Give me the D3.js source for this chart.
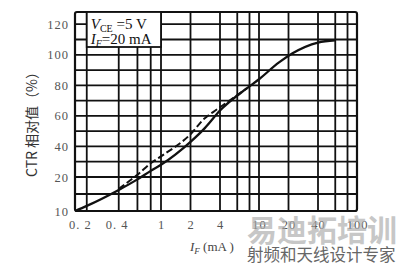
<!DOCTYPE html>
<html>
<head>
<meta charset="utf-8">
<script src="https://cdn.jsdelivr.net/npm/d3@7"></script>
<style>
  body { margin: 0; background: #fff; }
  svg { display: block; }
</style>
</head>
<body>
<svg width="400" height="266"></svg>
<script>
// IF in mA (log axis), CTR relative value in %
var solidIF  = [0.155, 0.2, 0.4, 0.6, 0.8, 1, 2, 2.8, 4, 7.5, 10, 16, 22, 40, 60];
var solidCTR = [10, 11.5, 16.2, 19.3, 24, 28, 43, 52, 63.5, 78, 84, 95, 101, 108, 109.5];

var dashIF  = [0.4, 0.6, 0.8, 1, 2, 2.8, 3.4, 5, 7.5];
var dashCTR = [16.5, 21.5, 29, 33.5, 48, 58.5, 62.5, 70, 78];

var xGrid = [0.2, 0.4, 0.6, 0.8, 1, 2, 4, 6, 8, 10, 20, 40, 60, 80];
var yGrid = [15, 20, 30, 40, 50, 60, 70, 80, 90, 100, 110, 120];

var xTicks = [0.2, 0.4, 1, 2, 4, 10, 20, 40, 100];
var xTickLabels = ['0. 2', '0. 4', '1', '2', '4', '10', '20', '40', '100'];
var yTicks = [10, 20, 40, 60, 80, 100, 120];

var xMin = 0.155, xMax = 100, yMin = 10, yMax = 128;

var svg = d3.select('svg');

var x = d3.scaleLog().domain([xMin, 1, xMax]).range([75, 161, 357]);
var y = d3.scaleLinear().domain([yMin, 20, yMax]).range([211, 177, 12]);

// grid
var grid = svg.append('g').attr('stroke', '#111').attr('stroke-width', 1.8);
grid.selectAll('.vx').data(xGrid).enter().append('line')
    .attr('x1', function(d) { return x(d); })
    .attr('x2', function(d) { return x(d); })
    .attr('y1', y(yMin)).attr('y2', y(yMax));
grid.selectAll('.hy').data(yGrid).enter().append('line')
    .attr('y1', function(d) { return y(d); })
    .attr('y2', function(d) { return y(d); })
    .attr('x1', x(xMin)).attr('x2', x(xMax));

// frame
svg.append('rect')
    .attr('x', x(xMin)).attr('y', y(yMax))
    .attr('width', x(xMax) - x(xMin))
    .attr('height', y(yMin) - y(yMax))
    .attr('rx', 2)
    .attr('fill', 'none').attr('stroke', '#111').attr('stroke-width', 2.2);

// condition box
svg.append('rect')
    .attr('x', x(0.2)).attr('y', y(yMax))
    .attr('width', x(1) - x(0.2))
    .attr('height', 35)
    .attr('fill', '#fff').attr('stroke', '#111').attr('stroke-width', 1.8);

var cond = svg.append('g')
    .style('font-family', '"Liberation Serif", serif')
    .style('font-size', '15px')
    .attr('fill', '#111');
var t1 = cond.append('text').attr('x', x(0.2) + 4).attr('y', 29);
t1.append('tspan').style('font-style', 'italic').text('V');
t1.append('tspan').style('font-size', '10px').attr('dy', 3).text('CE');
t1.append('tspan').attr('dy', -3).text(' =5 V');
var t2 = cond.append('text').attr('x', x(0.2) + 4).attr('y', 44);
t2.append('tspan').style('font-style', 'italic').text('I');
t2.append('tspan').style('font-size', '10px').style('font-style', 'italic').attr('dy', 3).text('F');
t2.append('tspan').attr('dy', -3).text('=20 mA');

// curves
var line = d3.line()
    .x(function(d) { return x(d[0]); })
    .y(function(d) { return y(d[1]); })
    .curve(d3.curveMonotoneX);

svg.append('path')
    .datum(d3.zip(dashIF, dashCTR))
    .attr('d', line)
    .attr('fill', 'none').attr('stroke', '#111')
    .attr('stroke-width', 2).attr('stroke-dasharray', '7,3');

svg.append('path')
    .datum(d3.zip(solidIF, solidCTR))
    .attr('d', line)
    .attr('fill', 'none').attr('stroke', '#111').attr('stroke-width', 2.3);

// axes labels
var yAxis = svg.append('g')
    .attr('transform', 'translate(' + x(xMin) + ',0)')
    .call(d3.axisLeft(y).tickValues(yTicks).tickSize(0).tickPadding(6));
yAxis.select('.domain').remove();
yAxis.selectAll('text')
    .style('font-family', '"Liberation Serif", serif')
    .style('font-size', '12.5px')
    .style('letter-spacing', '1px')
    .attr('fill', '#555');

var xAxis = svg.append('g')
    .attr('transform', 'translate(0,' + y(yMin) + ')')
    .call(d3.axisBottom(x).tickValues(xTicks).tickSize(0).tickPadding(9)
        .tickFormat(function(d, i) { return xTickLabels[i]; }));
xAxis.select('.domain').remove();
xAxis.selectAll('text')
    .style('font-family', '"Liberation Serif", serif')
    .style('font-size', '12.5px')
    .style('letter-spacing', '1px')
    .attr('fill', '#555')
    .attr('dx', function(d, i) { return i === 0 ? -7 : (i === 1 ? -2 : 0); });

// axis titles
svg.append('text')
    .attr('transform', 'translate(37,121) rotate(-90)')
    .attr('text-anchor', 'middle')
    .style('font-family', '"Noto Sans CJK SC", sans-serif')
    .style('font-size', '14px')
    .attr('fill', '#333')
    .text('CTR 相对值（%）');

var xt = svg.append('text')
    .attr('x', 190).attr('y', 251)
    .style('font-family', '"Liberation Serif", serif')
    .style('font-size', '13px')
    .attr('fill', '#444');
xt.append('tspan').style('font-style', 'italic').text('I');
xt.append('tspan').style('font-size', '9px').style('font-style', 'italic').attr('dy', 3).text('F');
xt.append('tspan').attr('dy', -3).text(' (mA )');

// watermark
svg.append('text')
    .attr('x', 247).attr('y', 241)
    .style('font-family', '"Noto Sans CJK SC", sans-serif')
    .style('font-size', '30px').style('font-weight', 'bold')
    .attr('fill', '#aaa').attr('opacity', 0.65)
    .text('易迪拓培训');
svg.append('text')
    .attr('x', 247).attr('y', 261)
    .style('font-family', '"Noto Sans CJK SC", sans-serif')
    .style('font-size', '16.5px')
    .attr('fill', '#666')
    .text('射频和天线设计专家');
</script>
</body>
</html>
